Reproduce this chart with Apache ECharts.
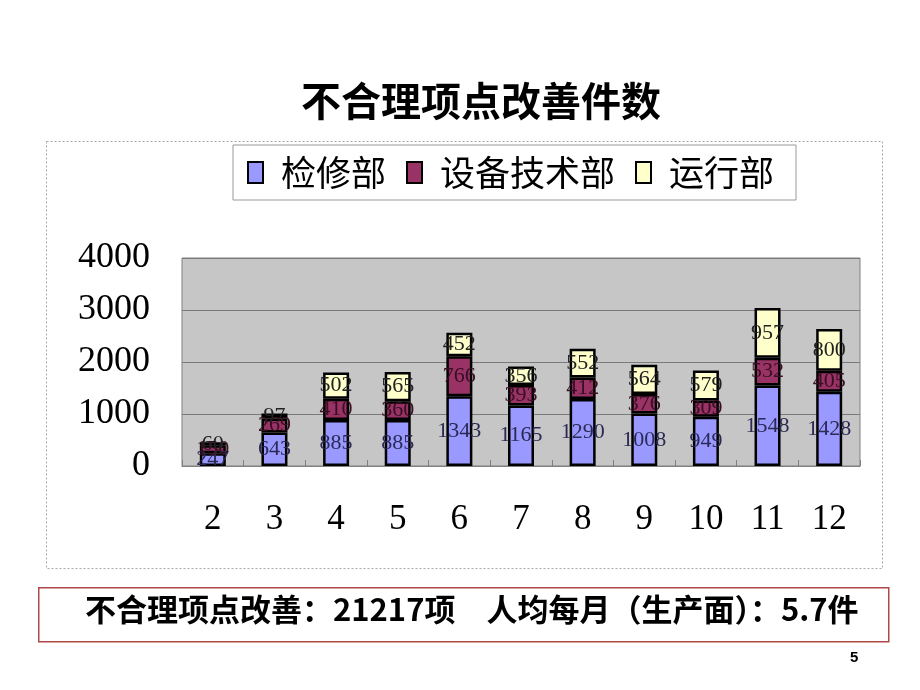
<!DOCTYPE html>
<html>
<head>
<meta charset="utf-8">
<script src="https://cdn.jsdelivr.net/npm/echarts@6/dist/echarts.min.js"></script>
<style>html,body{margin:0;padding:0;background:#fff;}#c{width:920px;height:690px;}</style>
</head>
<body>
<div id="c"></div>
<script>
var months = ['2','3','4','5','6','7','8','9','10','11','12'];
var jianxiu = [247, 643, 885, 885, 1343, 1165, 1290, 1008, 949, 1548, 1428];
var shebei = [150, 269, 410, 360, 766, 393, 412, 376, 309, 532, 405];
var yunxing = [60, 97, 502, 565, 452, 356, 552, 564, 579, 957, 800];
var seriesNames = ['检修部', '设备技术部', '运行部'];
var yTicks = [0, 1000, 2000, 3000, 4000];
var titleText = '不合理项点改善件数';
var footText = '不合理项点改善：21217项　人均每月（生产面）：5.7件';
var pageNo = '5';

var chart = echarts.init(document.getElementById('c'), null, {renderer: 'canvas'});
var serif = '"Liberation Serif","DejaVu Serif",serif';
var cjk = '"Noto Sans CJK SC","Noto Sans",sans-serif';

function mk(name, data, color, labelColor) {
  return {
    name: name, type: 'bar', stack: 'total', data: data, barWidth: 26,
    itemStyle: {color: color, borderColor: '#000', borderWidth: 2.5},
    label: {show: true, position: 'inside', fontFamily: serif, fontSize: 22, color: labelColor},
    emphasis: {disabled: true}
  };
}

chart.setOption({
  animation: false,
  backgroundColor: '#fff',
  title: {
    text: titleText, left: 296, top: 76,
    textStyle: {fontFamily: cjk, fontSize: 40, fontWeight: 'bold', color: '#000'}
  },
  legend: {
    data: seriesNames, left: 233, top: 145, padding: [10, 22, 10, 14],
    borderColor: '#999', borderWidth: 1, itemGap: 20,
    itemWidth: 15, itemHeight: 21,
    icon: 'rect',
    textStyle: {fontFamily: cjk, fontSize: 35, color: '#000', padding: [0, 0, 0, 13]}
  },
  grid: {
    left: 182, right: 60, top: 258, bottom: 224, show: true,
    backgroundColor: '#c6c6c6', borderColor: '#808080', borderWidth: 1
  },
  xAxis: {
    type: 'category', data: months,
    axisLine: {show: true, lineStyle: {color: '#808080', width: 1}},
    axisTick: {show: true, inside: true, length: 6, lineStyle: {color: '#808080'}},
    axisLabel: {fontFamily: serif, fontSize: 35, color: '#000', margin: 36}
  },
  yAxis: {
    type: 'value', min: yTicks[0], max: yTicks[yTicks.length - 1], interval: 1000,
    axisLine: {show: false}, axisTick: {show: false},
    splitLine: {show: true, lineStyle: {color: '#7a7a7a', width: 1}},
    axisLabel: {fontFamily: serif, fontSize: 36, color: '#000', margin: 32,
      formatter: function (v) { return String(v); }}
  },
  series: [
    mk(seriesNames[0], jianxiu, '#9999ff', '#2a2a55'),
    mk(seriesNames[1], shebei, '#993366', '#3a0f22'),
    mk(seriesNames[2], yunxing, '#ffffcc', '#222')
  ],
  graphic: [
    {type: 'rect', left: 44, top: 139, z: -1, silent: true,
     shape: {width: 836, height: 427},
     style: {fill: 'none', stroke: '#aaa', lineWidth: 1, lineDash: [2, 2]}},
    {type: 'rect', left: 38, top: 587, silent: true,
     shape: {width: 850, height: 54},
     style: {fill: '#fff', stroke: '#b04848', lineWidth: 1.5}},
    {type: 'text', left: 85, top: 594, silent: true,
     style: {text: footText, fontFamily: cjk, fontSize: 31, fontWeight: 'bold', fill: '#000'}},
    {type: 'text', left: 850, top: 650, silent: true,
     style: {text: pageNo, fontFamily: '"Liberation Sans",Arial,sans-serif', fontSize: 15, fontWeight: 'bold', fill: '#000'}}
  ]
});
</script>
</body>
</html>
